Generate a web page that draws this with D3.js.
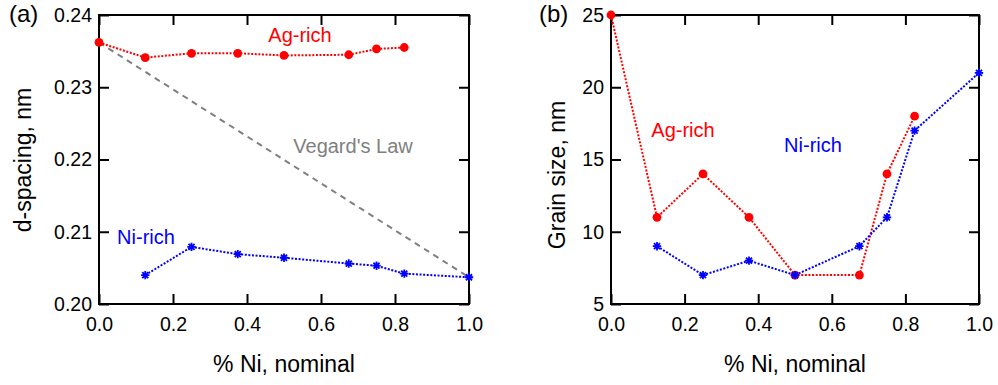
<!DOCTYPE html>
<html>
<head>
<meta charset="utf-8">
<script src="https://cdn.jsdelivr.net/npm/d3@7"></script>
<style>
  body { margin: 0; background: #fff; }
  text { font-family: "Liberation Sans", Arial, sans-serif; }
</style>
</head>
<body>
<div class="board"></div>
<script>
// nominal Ni fraction for each sample
var xAg = [0, 0.125, 0.25, 0.375, 0.5, 0.675, 0.75, 0.825];
var xNi = [0.125, 0.25, 0.375, 0.5, 0.675, 0.75, 0.825, 1.0];

// (a) d-spacing, nm
var dAg = [0.2362, 0.2341, 0.2347, 0.2347, 0.2344, 0.2345, 0.2353, 0.2355];
var dNi = [0.2040, 0.2079, 0.2069, 0.2064, 0.2056, 0.2053, 0.2042, 0.2037];
var vegard = [[0, 0.2362], [1, 0.2037]];

// (b) grain size, nm
var gAg = [25, 11, 14, 11, 7, 7, 14, 18];
var gNi = [9, 7, 8, 7, 9, 11, 17, 21];

var xTicks = [0, 0.2, 0.4, 0.6, 0.8, 1.0];
var dTicks = [0.20, 0.21, 0.22, 0.23, 0.24];
var gTicks = [5, 10, 15, 20, 25];

var red = "#ff0000", blue = "#0000ff", gray = "#808080";

var svg = d3.select(".board").append("svg")
            .attr("width", 998)
            .attr("height", 385);

function star(s) {
  var d = s * 0.72;
  return "M" + (-s) + ",0L" + s + ",0M0," + (-s) + "L0," + s +
         "M" + (-d) + "," + (-d) + "L" + d + "," + d +
         "M" + (-d) + "," + d + "L" + d + "," + (-d);
}

function panel(opt) {
  var x = d3.scaleLinear().domain([0, 1]).range([opt.left, opt.right]);
  var y = d3.scaleLinear().domain(opt.yDomain).range([304, 15]);
  var g = svg.append("g");

  // ticks on all four sides, pointing in
  g.append("g").attr("transform", "translate(0,304)")
   .call(d3.axisBottom(x).tickValues(xTicks).tickSize(-10).tickPadding(13).tickFormat(d3.format(".1f")));
  g.append("g").attr("transform", "translate(0,15)")
   .call(d3.axisTop(x).tickValues(xTicks).tickSize(-10).tickFormat(""));
  g.append("g").attr("transform", "translate(" + opt.left + ",0)")
   .call(d3.axisLeft(y).tickValues(opt.yTicks).tickSize(-10).tickPadding(7).tickFormat(opt.yFormat));
  g.append("g").attr("transform", "translate(" + opt.right + ",0)")
   .call(d3.axisRight(y).tickValues(opt.yTicks).tickSize(-10).tickFormat(""));

  g.selectAll(".domain").remove();
  g.selectAll(".tick line").attr("stroke", "#000").attr("stroke-width", 2);
  g.selectAll(".tick text").attr("font-size", 19.5).attr("fill", "#000")
   .attr("font-family", "'Liberation Sans', Arial, sans-serif");

  g.append("rect")
   .attr("x", opt.left).attr("y", 15)
   .attr("width", opt.right - opt.left).attr("height", 289)
   .attr("fill", "none").attr("stroke", "#000").attr("stroke-width", 2);

  var line = d3.line().x(function(d) { return x(d[0]); }).y(function(d) { return y(d[1]); });

  if (opt.vegard) {
    g.append("path").datum(opt.vegard).attr("d", line)
     .attr("fill", "none").attr("stroke", gray).attr("stroke-width", 2)
     .attr("stroke-dasharray", "6,5");
  }

  var ag = d3.zip(xAg, opt.ag), ni = d3.zip(xNi, opt.ni);

  g.append("path").datum(ag).attr("d", line)
   .attr("fill", "none").attr("stroke", red).attr("stroke-width", 2)
   .attr("stroke-dasharray", "2,1.6");
  g.append("path").datum(ni).attr("d", line)
   .attr("fill", "none").attr("stroke", blue).attr("stroke-width", 2)
   .attr("stroke-dasharray", "2,1.6");

  g.selectAll(".ag").data(ag).enter().append("circle")
   .attr("cx", function(d) { return x(d[0]); })
   .attr("cy", function(d) { return y(d[1]); })
   .attr("r", 4.4).attr("fill", red);
  g.selectAll(".ni").data(ni).enter().append("path")
   .attr("d", star(4.2))
   .attr("transform", function(d) { return "translate(" + x(d[0]) + "," + y(d[1]) + ")"; })
   .attr("stroke", blue).attr("stroke-width", 1.8).attr("fill", "none");

  // titles and labels
  g.append("text").attr("x", (opt.left + opt.right) / 2).attr("y", 372)
   .attr("text-anchor", "middle").attr("font-size", 23).text("% Ni, nominal");
  g.append("text")
   .attr("transform", "translate(" + opt.yTitleX + "," + opt.yTitleY + ") rotate(-90)")
   .attr("text-anchor", "middle").attr("font-size", 23).text(opt.yTitle);
  g.append("text").attr("x", opt.tagX).attr("y", 22)
   .attr("font-size", 24).text(opt.tag);

  opt.labels.forEach(function(l) {
    g.append("text").attr("x", l[0]).attr("y", l[1])
     .attr("text-anchor", "middle").attr("font-size", 20)
     .attr("fill", l[3]).text(l[2]);
  });
}

panel({
  left: 99, right: 469,
  yDomain: [0.20, 0.24], yTicks: dTicks, yFormat: d3.format(".2f"),
  ag: dAg, ni: dNi, vegard: vegard,
  yTitle: "d-spacing, nm", yTitleX: 31, yTitleY: 160,
  tag: "(a)", tagX: 9,
  labels: [[300, 42, "Ag-rich", red], [353, 153, "Vegard's Law", gray], [146, 244, "Ni-rich", blue]]
});

panel({
  left: 611, right: 979,
  yDomain: [5, 25], yTicks: gTicks, yFormat: d3.format("d"),
  ag: gAg, ni: gNi, vegard: null,
  yTitle: "Grain size, nm", yTitleX: 565, yTitleY: 175,
  tag: "(b)", tagX: 539,
  labels: [[683, 137, "Ag-rich", red], [813, 152, "Ni-rich", blue]]
});
</script>
</body>
</html>
